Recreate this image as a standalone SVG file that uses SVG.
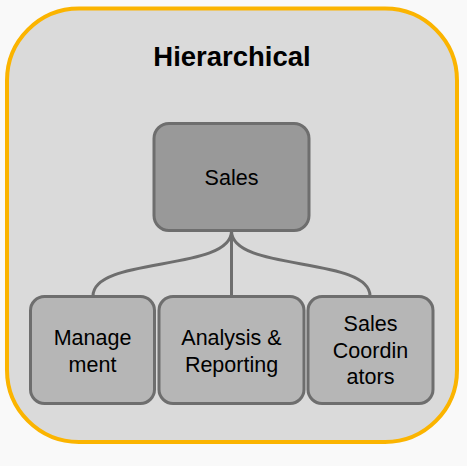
<svg xmlns="http://www.w3.org/2000/svg" width="467" height="466" viewBox="0 0 467 466">
<style>
.bg{fill:#f9f9f9}
.outer{fill:#dadada;stroke:#fbb400;stroke-width:4}
.node rect{stroke:#6e6e6e;stroke-width:3}
.top rect{fill:#999999}
.child rect{fill:#b6b6b6}
text{font-family:"Liberation Sans",Arial,sans-serif;fill:#000;text-anchor:middle}
.lbl{font-size:21.5px}
.title{font-size:27.5px;font-weight:bold}
.conn path{fill:none;stroke:#6e6e6e;stroke-width:3}
</style>
<rect class="bg" x="0" y="0" width="467" height="466"/>
<g id="frame">
<rect class="outer" x="7" y="8.5" width="450" height="433.5" rx="72" ry="72"/>
<text class="title" x="232" y="66">Hierarchical</text>
</g>
<g id="connectors" class="conn">
<path d="M231.5,231 C231.5,272 93,256 93,296"/>
<path d="M231.5,231 L231.5,296"/>
<path d="M231.5,231 C231.5,272 370,256 370,296"/>
</g>
<g id="sales" class="node top">
<rect x="154" y="123.5" width="155" height="107" rx="15" ry="15"/>
<text class="lbl" x="231.5" y="185">Sales</text>
</g>
<g id="management" class="node child">
<rect x="30.5" y="296.5" width="124" height="107" rx="14" ry="14"/>
<text class="lbl" x="92.5" y="345">Manage</text>
<text class="lbl" x="92.5" y="371.5">ment</text>
</g>
<g id="analysis" class="node child">
<rect x="159" y="296.5" width="145" height="107" rx="14" ry="14"/>
<text class="lbl" x="231.5" y="345">Analysis &amp;</text>
<text class="lbl" x="231.5" y="371.5">Reporting</text>
</g>
<g id="coordinators" class="node child">
<rect x="308" y="296.5" width="125" height="107" rx="14" ry="14"/>
<text class="lbl" x="370.5" y="331">Sales</text>
<text class="lbl" x="370.5" y="357.5">Coordin</text>
<text class="lbl" x="370.5" y="384">ators</text>
</g>
</svg>
